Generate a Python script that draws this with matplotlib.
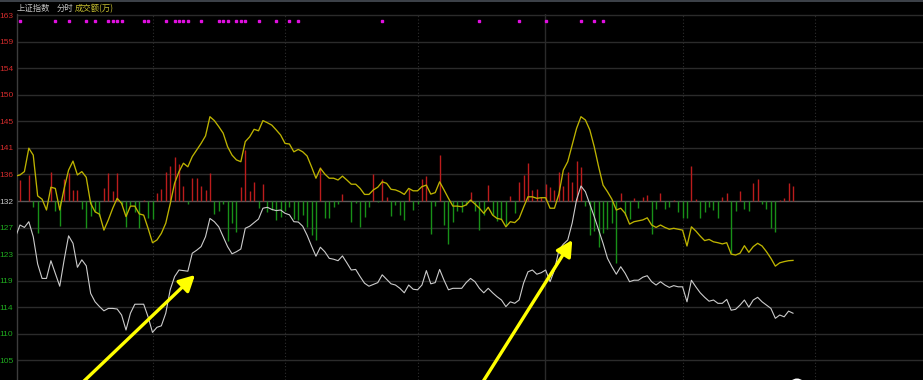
import numpy as np
import matplotlib
matplotlib.use("Agg")
import matplotlib.pyplot as plt
from matplotlib.patches import FancyArrowPatch, Ellipse, Rectangle

# ---------------- data (minute index from 9:30) ----------------
price_line = [126.05, 128.0, 127.6, 128.55, 126.05, 121.5, 119.1, 119.1, 122.05, 119.95,
              117.8, 122.2, 126.2, 124.95, 120.95, 122.2, 121.2, 116.6, 115.2, 114.4,
              113.7, 114.1, 114.1, 114.0, 113.0, 110.5, 113.3, 114.8, 114.8, 114.8,
              112.7, 110.1, 110.95, 111.2, 113.3, 117.2, 119.4, 120.5, 120.4, 120.3,
              123.3, 123.8, 124.4, 126.05, 129.1, 128.55, 127.7, 126.05, 124.4, 123.2,
              123.55, 124.0, 127.45, 127.8, 128.4, 129.0, 130.8, 130.95, 130.6, 130.4,
              130.5, 129.95, 129.7, 128.55, 128.5, 127.8, 126.3, 124.5, 122.8, 124.3,
              123.55, 122.45, 122.3, 122.05, 122.85, 121.7, 120.5, 120.6, 119.4, 118.3,
              117.8, 118.1, 118.4, 119.7, 118.95, 118.2, 118.0, 117.45, 116.7, 118.0,
              117.3, 117.2, 118.0, 120.4, 118.2, 118.4, 120.6, 118.8, 117.2, 117.45,
              117.45, 117.45, 118.4, 119.1, 118.55, 117.45, 116.7, 117.45, 116.7, 116.05,
              115.5, 114.4, 115.2, 114.95, 115.5, 118.3, 120.2, 120.5, 119.8, 120.05,
              120.5, 118.55, 120.5, 123.8, 124.8, 125.5, 128.3, 132.2, 134.5, 133.55,
              131.5, 129.4, 127.2, 124.95, 122.45, 121.05, 119.8, 121.05, 119.95, 118.55,
              118.8, 118.8, 119.3, 119.55, 118.55, 118.0, 118.55, 118.0, 117.6, 117.9,
              117.7, 117.7, 115.2, 118.8, 117.7, 116.7, 115.95, 115.3, 115.5, 114.95,
              114.95, 115.6, 113.8, 113.95, 114.65, 115.5, 114.3, 115.5, 115.95, 115.2,
              114.65, 114.1, 112.45, 113.0, 112.7, 113.65, 113.3]

yellow_line = [136.15, 136.35, 136.9, 140.8, 139.65, 132.85, 132.3, 130.5, 134.3, 134.1,
               130.5, 134.1, 137.15, 138.65, 136.35, 136.9, 135.95, 131.6, 130.2, 129.8,
               127.15, 128.85, 130.8, 132.45, 131.6, 129.4, 131.15, 131.15, 129.85, 129.65,
               127.45, 125.05, 125.5, 126.6, 128.3, 131.5, 134.95, 136.9, 138.3, 137.7,
               139.4, 140.5, 141.6, 142.85, 146.05, 145.4, 144.4, 143.3, 141.05, 139.65,
               138.85, 138.55, 141.9, 142.7, 143.95, 143.7, 145.4, 145.05, 144.65, 143.85,
               143.0, 141.6, 141.5, 140.2, 140.6, 140.2, 139.5, 137.7, 135.8, 137.45,
               136.5, 135.8, 135.8, 135.5, 136.15, 135.5, 134.8, 134.8, 134.1, 133.1,
               133.1, 133.85, 134.3, 135.2, 134.95, 133.95, 133.85, 133.55, 133.1, 134.1,
               133.7, 133.7, 134.4, 134.65, 133.15, 133.4, 135.2, 133.85, 132.45, 131.15,
               131.15, 131.05, 131.35, 132.15, 131.5, 130.8, 129.95, 130.95, 129.65, 129.1,
               128.95, 127.7, 128.55, 128.4, 129.1, 130.95, 132.7, 132.7, 132.45, 132.55,
               132.55, 130.8, 130.8, 133.15, 137.15, 138.55, 141.35, 144.1, 146.05, 145.5,
               143.85, 141.05, 137.7, 134.65, 133.55, 132.3, 130.5, 130.8, 129.95, 128.15,
               128.55, 128.7, 128.85, 129.2, 128.0, 127.6, 128.0, 127.6, 127.3, 127.45,
               127.3, 127.15, 124.5, 127.7, 127.0, 126.15, 125.4, 125.6, 125.2, 125.05,
               124.85, 125.05, 123.15, 123.0, 123.3, 124.55, 123.45, 124.4, 124.95, 124.5,
               123.55, 122.45, 121.15, 121.7, 121.9, 122.05, 122.1]

# signed bar lengths measured from the 132 base line (positive red, negative green)
volume_bars = [3.5, 0, 4.3, -1.0, -5.3, 0, 0, 4.8, -1.7, -4.2,
               3.7, 4.7, 1.8, 1.8, -1.3, -4.5, -2.5, -1.8, -2.5, 2.2,
               4.7, 1.7, 4.7, -0.7, -4.3, -0.7, -1.8, -4.5, 0.2, -2.8,
               -3.0, 1.3, 2.0, 4.8, 5.8, 7.3, 6.2, 2.5, -0.5, 3.8,
               3.8, 2.5, 1.8, 4.7, -2.2, -1.7, -0.5, -6.7, -3.7, -5.2,
               2.3, 8.5, 1.7, 3.2, -1.2, 2.8, -1.8, -1.5, -3.2, -2.7,
               -1.7, -1.0, -3.0, -3.2, -2.3, -4.3, -5.7, -6.5, 5.7, -2.8,
               -2.8, -1.0, -0.5, 1.2, 0, -3.5, -0.3, -4.3, -2.7, -1.0,
               4.5, -0.2, 3.7, 0.7, -2.5, -0.7, -2.3, -3.2, 2.0, -1.5,
               -0.5, 3.7, 4.2, -5.5, -0.8, 7.7, -4.0, -7.2, -3.5, -1.7,
               -1.8, -0.7, 1.5, -1.7, -4.8, -2.3, 2.7, -2.3, -3.3, -3.0,
               -4.2, 0.8, -2.0, 3.2, 4.3, 6.3, 1.8, 2.0, 0.7, 2.8,
               2.3, 1.8, 4.8, 2.5, 4.8, 3.2, 6.7, 5.7, -0.8, -5.7,
               -5.0, -7.7, -5.3, -4.7, -3.7, -10.3, 1.3, -2.3, -3.0, 0.5,
               -1.2, 0.7, 1.0, -5.5, -1.3, 1.3, -1.3, -1.0, 0.2, -1.8,
               -2.8, -2.8, 5.8, 0.3, -2.8, -1.8, -1.0, -1.5, -2.8, 0.7,
               1.3, -8.7, -1.7, 1.7, -1.3, -1.7, 3.0, 3.7, -0.5, -1.3,
               -4.5, -5.2, 0.2, 0.5, 3.0, 2.5]

signal_minutes = [0, 8, 11, 15, 17, 20, 21, 22, 23, 28, 29, 33, 35, 36, 37, 38, 41,
                  45, 46, 47, 49, 50, 51, 54, 58, 61, 63, 82, 104, 113, 119, 127, 130, 132]
signal_level = 162.05

ytick_labels = ["163", "159", "154", "150", "145", "141", "136", "132",
                "127", "123", "119", "114", "110", "105"]
base_value = 132.0
tick_step = 4.425
half_hour_minutes = [30, 60, 90, 150, 180]
noon_minute = 118.9

# ---------------- figure ----------------
W, H = 923, 380
fig = plt.figure(figsize=(W / 100, H / 100), dpi=100, facecolor="black")

ax_left_px, ax_top_px = 16.5, 14.4
ax = fig.add_axes([ax_left_px / W, 0, (W - ax_left_px) / W, (H - ax_top_px) / H])
ax.set_facecolor("black")
ax.set_xlim(-0.79, 204.43)
ax.set_ylim(102.17, 163.1)

# grid
n_up = 7
tick_vals = [base_value + tick_step * (n_up - i) for i in range(len(ytick_labels))]
for v, lab in zip(tick_vals, ytick_labels):
    if lab == "132":
        ax.axhline(v, color="#5a5a5a", lw=1.0, zorder=1)
    else:
        ax.axhline(v, color="#2b2b2b", lw=1.0, zorder=1)
for m in half_hour_minutes:
    ax.axvline(m, color="#2e2e2e", lw=0.8, ls=(0, (1, 2)), zorder=1)
ax.axvline(noon_minute, color="#2a2a2a", lw=1.0, zorder=1)

# bars
bar_x = np.arange(len(volume_bars))
bars = np.array(volume_bars)
up = bars > 0
dn = bars < 0
ax.vlines(bar_x[up], base_value, base_value + bars[up], color="#bb1c1c", lw=1.0, zorder=2)
ax.vlines(bar_x[dn], base_value, base_value + bars[dn], color="#189018", lw=1.0, zorder=2)

# lines
line_x = np.arange(len(price_line)) - 1
ax.plot(np.arange(len(yellow_line)) - 1, yellow_line, color="#bdb300", lw=0.95, zorder=3)
ax.plot(line_x, price_line, color="#cccccc", lw=0.8, zorder=4)

# signal dots
ax.plot(signal_minutes, [signal_level] * len(signal_minutes), ls="none", marker="s",
        ms=1.7, mfc="#e010e0", mec="#e010e0", zorder=5)

# axes cosmetics
for s in ["top", "right", "bottom"]:
    ax.spines[s].set_visible(False)
ax.spines["left"].set_color("#3c3c3c")
ax.spines["left"].set_linewidth(1.0)
ax.set_xticks([])
ax.set_yticks(tick_vals)
ax.set_yticklabels(ytick_labels, fontsize=6, family="Liberation Sans")
ax.tick_params(axis="y", length=0, pad=2.3)
for lab in ax.get_yticklabels():
    t = lab.get_text()
    if float(t) > base_value + 0.5:
        lab.set_color("#d42c2c")
    elif float(t) < base_value - 0.5:
        lab.set_color("#1faa1f")
    else:
        lab.set_color("#c8c8c8")

# header
fig.add_artist(Rectangle((0, 1 - 2 / H), 1, 2 / H, transform=fig.transFigure,
                         color="#3c4148", lw=0))
cjk = ["Noto Sans CJK SC", "DejaVu Sans"]
fig.text(16.5 / W, 1 - 8.5 / H, "上证指数", color="#c4c4c4", fontsize=6,
         family=cjk, va="center", ha="left")
fig.text(56.5 / W, 1 - 8.5 / H, "分时", color="#c4c4c4", fontsize=6,
         family=cjk, va="center", ha="left")
fig.text(75 / W, 1 - 8.5 / H, "成交额(万)", color="#c8c030", fontsize=6,
         family=cjk, va="center", ha="left")

# yellow annotation arrows (figure pixel coords, origin top-left converted)
def fpt(x, y):
    return (x / W, 1 - y / H)

for tail, tip in [((74.6, 390), (195, 275)), ((477.7, 390), (572.3, 240))]:
    arr = FancyArrowPatch(fpt(*tail), fpt(*tip), transform=fig.transFigure,
                          arrowstyle="-|>,head_length=0.95,head_width=0.5",
                          mutation_scale=10, color="#ffff00", lw=2.4,
                          shrinkA=0, shrinkB=0, zorder=10)
    fig.add_artist(arr)

# small white cursor blob at the bottom edge
fig.add_artist(Ellipse(fpt(797, 387), 17 / W, 17 / H, transform=fig.transFigure,
                       color="white", lw=0, zorder=10))

fig.savefig("out.png", dpi=100, facecolor="black")
